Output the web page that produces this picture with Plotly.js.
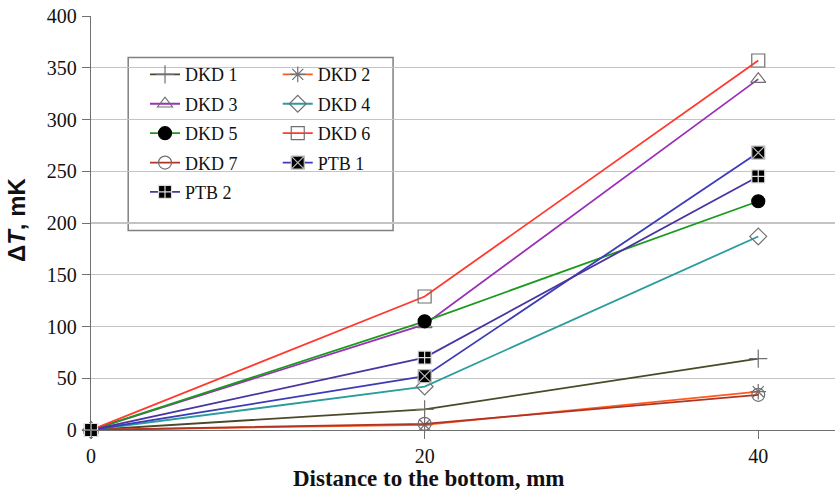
<!DOCTYPE html>
<html><head><meta charset="utf-8">
<script src="https://cdn.plot.ly/plotly-3.0.1.min.js"></script>
<style>html,body{margin:0;padding:0;background:#fff}#chart{width:835px;height:492px}</style>
</head><body><div id="chart"></div>
<script>
const distance = [0, 20, 40];
const dkd1 = [0, 20, 69];
const dkd2 = [0, 5, 37];
const dkd3 = [0, 102, 339];
const dkd4 = [0, 42, 187];
const dkd5 = [0, 105, 221];
const dkd6 = [0, 129, 357];
const dkd7 = [0, 6, 34];
const ptb1 = [0, 52, 268];
const ptb2 = [0, 70, 245];
const yTicks = [0, 50, 100, 150, 200, 250, 300, 350, 400];
const xTicks = [0, 20, 40];

const gray = '#707070';
const serif = '"Liberation Serif", "Times New Roman", serif';
function tr(name, y, color, symbol, mcolor, lcolor, legend) {
  return {
    type: 'scatter', mode: 'lines+markers', name: name, x: distance, y: y,
    line: {color: color, width: 1.8},
    marker: {symbol: symbol, size: 13, color: mcolor, line: {color: lcolor, width: 1.2}},
    legend: legend, legendgroup: name, cliponaxis: false
  };
}
const traces = [
  tr('DKD 1', dkd1, '#4a4a28', 'cross-thin-open', gray, gray, 'legend'),
  tr('DKD 2', dkd2, '#ff5a1e', 'asterisk-open', gray, gray, 'legend2'),
  tr('DKD 3', dkd3, '#9b30b8', 'triangle-up-open', gray, gray, 'legend'),
  tr('DKD 4', dkd4, '#2a9c9c', 'diamond-open', gray, gray, 'legend2'),
  tr('DKD 5', dkd5, '#1a9a1a', 'circle', '#000', '#000', 'legend'),
  tr('DKD 6', dkd6, '#ff3a2e', 'square-open', gray, gray, 'legend2'),
  tr('DKD 7', dkd7, '#b03424', 'circle-open', gray, gray, 'legend'),
  tr('PTB 1', ptb1, '#3c3cb8', 'square-x', '#000', '#bbbbbb', 'legend2'),
  tr('PTB 2', ptb2, '#4a34a0', 'square-cross', '#000', '#dddddd', 'legend')
];
const legFont = {family: serif, size: 18, color: '#111'};
const layout = {
  width: 835, height: 492,
  margin: {l: 91, r: 0, t: 16, b: 62},
  paper_bgcolor: '#fff', plot_bgcolor: '#fff',
  showlegend: true,
  xaxis: {range: [0, 44.6], tickvals: xTicks, ticks: 'outside', ticklen: 8, tickcolor: gray,
    showgrid: false, zeroline: false, showline: true, linecolor: gray, linewidth: 1.2,
    tickfont: {family: serif, size: 20, color: '#111'}},
  yaxis: {range: [0, 400], tickvals: yTicks, ticks: 'outside', ticklen: 8, tickcolor: gray,
    showgrid: true, gridcolor: '#c4c4c4', gridwidth: 1.2, zeroline: false, showline: true,
    linecolor: gray, linewidth: 1.2, ticklabelstandoff: 1,
    tickfont: {family: serif, size: 20, color: '#111'}},
  legend: {x: 0.0726, y: 0.903, xanchor: 'left', yanchor: 'top', bgcolor: 'rgba(0,0,0,0)',
    font: legFont, tracegroupgap: 3, itemwidth: 30},
  legend2: {x: 0.251, y: 0.903, xanchor: 'left', yanchor: 'top', bgcolor: 'rgba(0,0,0,0)',
    font: legFont, tracegroupgap: 3, itemwidth: 30},
  shapes: [{type: 'rect', xref: 'paper', yref: 'paper', x0: 0.05, x1: 0.406, y0: 0.482, y1: 0.9,
    line: {color: '#808080', width: 1.5}, fillcolor: '#fff', layer: 'below'}],
  annotations: [
    {text: '<b>Distance to the bottom, mm</b>', xref: 'paper', yref: 'paper', x: 0.453, y: -0.116,
     xanchor: 'center', yanchor: 'middle', showarrow: false,
     font: {family: serif, size: 23, color: '#111'}},
    {text: '<b>Δ<i>T</i>, mK</b>', xref: 'paper', yref: 'paper', x: -0.1008, y: 0.507, textangle: -90,
     xanchor: 'center', yanchor: 'middle', showarrow: false,
     font: {family: '"Liberation Sans", Arial, sans-serif', size: 24, color: '#111'}}
  ]
};
Plotly.newPlot('chart', traces, layout, {displayModeBar: false, staticPlot: true});
</script></body></html>
